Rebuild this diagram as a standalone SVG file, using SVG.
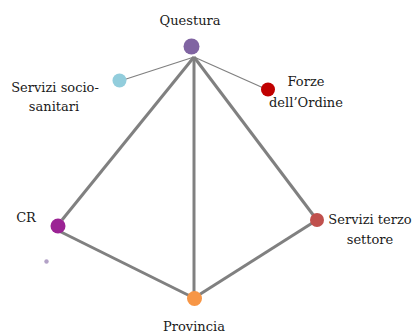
<svg xmlns="http://www.w3.org/2000/svg" width="413" height="336" viewBox="0 0 413 336">
<style>
.lbl{font-family:'DejaVu Serif',serif;font-size:13px;fill:#1a1a1a;text-anchor:middle}
.thick{stroke:#808080;stroke-width:3;fill:none}
.thin{stroke:#808080;stroke-width:1.2;fill:none}
</style>
<rect width="413" height="336" fill="#ffffff"/>
<g id="connectors">
<line class="thin" x1="194" y1="57" x2="120" y2="81"/>
<line class="thin" x1="194" y1="57" x2="268" y2="90"/>
<line class="thick" x1="194" y1="57" x2="62" y2="220"/>
<line class="thick" x1="194" y1="57" x2="194" y2="298"/>
<line class="thick" x1="194" y1="57" x2="317" y2="220"/>
<line class="thick" x1="55" y1="229" x2="194" y2="298"/>
<line class="thick" x1="317" y1="220" x2="194" y2="298"/>
</g>
<g id="questura">
<circle cx="191.5" cy="46.5" r="8" fill="#8064A2"/>
<text class="lbl" x="190" y="25">Questura</text>
</g>
<g id="socio">
<circle cx="119.5" cy="80.5" r="7" fill="#92CDDC"/>
<text class="lbl" x="55" y="92">Servizi socio-</text>
<text class="lbl" x="54" y="111">sanitari</text>
</g>
<g id="forze">
<circle cx="268" cy="89.5" r="7" fill="#C00000"/>
<text class="lbl" x="306" y="86">Forze</text>
<text class="lbl" x="306" y="107">dell’Ordine</text>
</g>
<g id="cr">
<circle cx="58" cy="226" r="7.5" fill="#9B2394"/>
<text class="lbl" x="26" y="222">CR</text>
</g>
<g id="terzo">
<circle cx="317" cy="220" r="7" fill="#C0504D"/>
<text class="lbl" x="370" y="224">Servizi terzo</text>
<text class="lbl" x="370" y="244">settore</text>
</g>
<g id="provincia">
<circle cx="194.5" cy="298.5" r="7.5" fill="#F79646"/>
<text class="lbl" x="194" y="331">Provincia</text>
</g>
<g id="dot">
<circle cx="46.5" cy="261.5" r="2.2" fill="#B3A2C7"/>
</g>
</svg>
